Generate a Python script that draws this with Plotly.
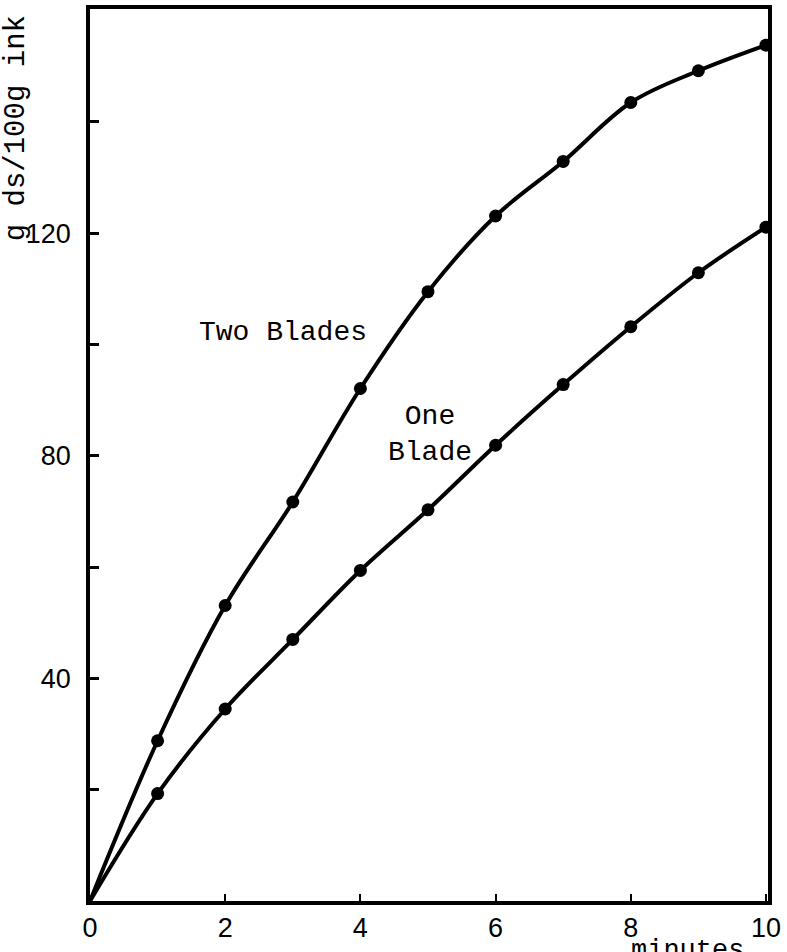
import plotly.graph_objects as go

minutes = [0, 1, 2, 3, 4, 5, 6, 7, 8, 9, 10]
two_blades = [0, 28.8, 53.1, 71.7, 92.1, 109.5, 123.1, 132.9, 143.5, 149.2, 153.8]
one_blade = [0, 19.3, 34.5, 47.0, 59.4, 70.3, 81.9, 92.8, 103.2, 112.9, 121.1]

y_tickvals = [20, 40, 60, 80, 100, 120, 140]
y_ticktext = ["", "40", "", "80", "", "120", ""]
x_tickvals = [0, 2, 4, 6, 8, 10]
x_ticktext = ["0", "2", "4", "6", "8", "10"]

mono = "Liberation Mono"
fig = go.Figure()
for ys in (two_blades, one_blade):
    fig.add_trace(go.Scatter(x=minutes, y=ys, mode="lines",
                             line=dict(color="black", width=4, shape="spline", smoothing=1.0),
                             showlegend=False, hoverinfo="skip"))
    fig.add_trace(go.Scatter(x=minutes[1:], y=ys[1:], mode="markers",
                             marker=dict(color="black", size=13),
                             showlegend=False))

fig.update_layout(
    width=787, height=952,
    margin=dict(l=90, r=19, t=5, b=51),
    paper_bgcolor="white", plot_bgcolor="white",
    xaxis=dict(range=[0, 10.03], tickvals=x_tickvals, ticktext=x_ticktext,
               ticks="inside", ticklen=7, tickwidth=1.5, tickcolor="black",
               showline=True, linecolor="black", linewidth=3.5, mirror=True,
               showgrid=False, zeroline=False, ticklabelstandoff=0,
               tickfont=dict(family="Liberation Sans", size=27, color="black")),
    yaxis=dict(range=[0, 160.3], tickvals=y_tickvals, ticktext=y_ticktext,
               ticks="inside", ticklen=9, tickwidth=2.5, tickcolor="black",
               showline=True, linecolor="black", linewidth=3.5, mirror=True,
               showgrid=False, zeroline=False, ticklabelstandoff=10,
               tickfont=dict(family="Liberation Sans", size=27, color="black")),
    annotations=[
        dict(text="Two Blades", x=2.85, y=102.1, xref="x", yref="y", showarrow=False,
             xanchor="center", yanchor="middle",
             font=dict(family=mono, size=28, color="black")),
        dict(text="One<br>Blade", x=5.03, y=83.9, xref="x", yref="y", showarrow=False,
             xanchor="center", yanchor="middle",
             font=dict(family=mono, size=28, color="black")),
        dict(text="g ds/100g ink", x=-0.108, y=0.866, xref="paper", yref="paper",
             textangle=-90, showarrow=False, xanchor="center", yanchor="middle",
             font=dict(family=mono, size=29, color="black")),
        dict(text="minutes", x=0.882, y=-0.037, xref="paper", yref="paper",
             showarrow=False, xanchor="center", yanchor="top",
             font=dict(family=mono, size=27, color="black")),
    ],
)
fig.write_html("out.html")
